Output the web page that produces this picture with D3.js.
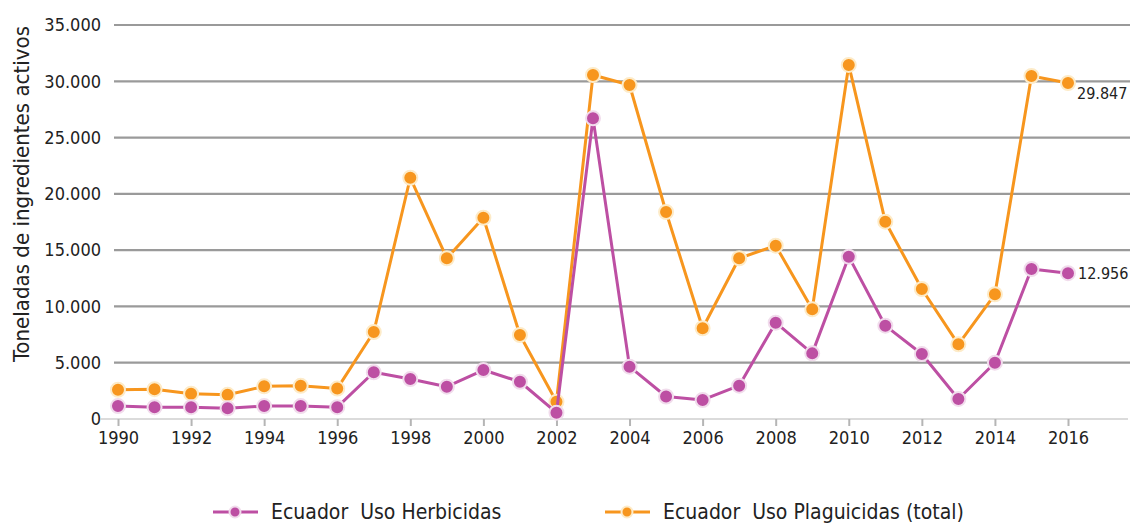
<!DOCTYPE html>
<html>
<head>
<meta charset="utf-8">
<script src="https://cdn.jsdelivr.net/npm/d3@7"></script>
<style>
  body { margin: 0; background: #fff; }
  svg text { font-family: "DejaVu Sans Condensed", "Liberation Sans Narrow", "Roboto", sans-serif; fill: #222; }
</style>
</head>
<body>
<div class="chart"></div>
<script>
// data
var years = [1990, 1991, 1992, 1993, 1994, 1995, 1996, 1997, 1998, 1999, 2000, 2001, 2002,
    2003, 2004, 2005, 2006, 2007, 2008, 2009, 2010, 2011, 2012, 2013, 2014, 2015, 2016];
var herbicidas = [1150, 1050, 1050, 950, 1150, 1150, 1050, 4150, 3550, 2870, 4350, 3310, 560,
    26710, 4650, 2000, 1690, 2960, 8560, 5830, 14420, 8290, 5770, 1780, 5000, 13325, 12956];
var plaguicidas = [2600, 2650, 2250, 2150, 2900, 2950, 2700, 7730, 21430, 14280, 17880, 7460, 1540,
    30560, 29670, 18390, 8060, 14280, 15400, 9740, 31450, 17530, 11550, 6630, 11080, 30470, 29847];
var yTicks = [0, 5000, 10000, 15000, 20000, 25000, 30000, 35000];
var xTicks = [1990, 1992, 1994, 1996, 1998, 2000, 2002, 2004, 2006, 2008, 2010, 2012, 2014, 2016];
var seriesNames = ["Ecuador  Uso Herbicidas", "Ecuador  Uso Plaguicidas (total)"];
var yTitle = "Toneladas de ingredientes activos";

var width = 1132, height = 525
    , purple = "#bd4fa3"
    , orange = "#f7961e";

var locale = d3.formatLocale({ decimal: ",", thousands: ".", grouping: [3], currency: ["$", ""] });
var fmt = locale.format(",d");

var x = d3.scaleLinear()
    .domain([1990, 2016])
    .range([118, 1068]);

var y = d3.scaleLinear()
    .domain([0, 35000])
    .range([419, 25]);

var svg = d3.select(".chart").append("svg")
    .attr("width", width)
    .attr("height", height);

// gridlines
svg.append("g")
    .selectAll("line")
    .data(yTicks.filter(d => d > 0))
    .enter().append("line")
    .attr("x1", 114)
    .attr("x2", width - 2)
    .attr("y1", d => y(d))
    .attr("y2", d => y(d))
    .attr("stroke", "#9a9a9a")
    .attr("stroke-width", 2.2);

// y labels
svg.append("g")
    .selectAll("text")
    .data(yTicks)
    .enter().append("text")
    .attr("x", 101)
    .attr("y", d => y(d))
    .attr("dy", "0.35em")
    .attr("text-anchor", "end")
    .style("font-size", "18px")
    .text(d => fmt(d));

// x axis
var xAxis = d3.axisBottom(x)
    .tickValues(xTicks)
    .tickFormat(d3.format("d"))
    .tickSize(7)
    .tickSizeOuter(0);

var gx = svg.append("g")
    .attr("transform", `translate(0,${y(0)})`)
    .call(xAxis);
gx.select(".domain")
    .attr("d", `M100,0H${width - 4}`)
    .attr("stroke", "#cfcfcf")
    .attr("stroke-width", 1.5);
gx.selectAll(".tick line")
    .attr("stroke", "#b5b5b5")
    .attr("stroke-width", 2);
gx.selectAll(".tick text")
    .attr("y", 12)
    .style("font-size", "18px")
    .style("font-family", null);

// y title
svg.append("text")
    .attr("transform", "translate(29,194) rotate(-90)")
    .attr("text-anchor", "middle")
    .attr("textLength", 336)
    .attr("lengthAdjust", "spacingAndGlyphs")
    .style("font-size", "21px")
    .text(yTitle);

var line = d3.line()
    .x((d, i) => x(years[i]))
    .y(d => y(d));

function drawSeries(values, color, ring) {
    var g = svg.append("g");
    g.append("path")
        .datum(values)
        .attr("fill", "none")
        .attr("stroke", color)
        .attr("stroke-width", 3)
        .attr("stroke-linejoin", "round")
        .attr("d", line);
    g.selectAll("circle")
        .data(values)
        .enter().append("circle")
        .attr("cx", (d, i) => x(years[i]))
        .attr("cy", d => y(d))
        .attr("r", 7)
        .attr("fill", color)
        .attr("stroke", ring)
        .attr("stroke-width", 2);
    return g;
}

drawSeries(plaguicidas, orange, "#fdebc8");
drawSeries(herbicidas, purple, "#f1dcec");

// end labels
var last = years.length - 1;
svg.append("text")
    .attr("x", x(years[last]) + 9)
    .attr("y", y(plaguicidas[last]) + 10)
    .attr("dy", "0.35em")
    .style("font-size", "16px")
    .text(fmt(plaguicidas[last]));
svg.append("text")
    .attr("x", x(years[last]) + 10)
    .attr("y", y(herbicidas[last]))
    .attr("dy", "0.35em")
    .style("font-size", "16px")
    .text(fmt(herbicidas[last]));

// legend
var legend = svg.append("g")
    .selectAll("g")
    .data(seriesNames)
    .enter().append("g")
    .attr("transform", (d, i) => `translate(${i == 0 ? 213 : 605},512)`);
legend.append("line")
    .attr("x1", 0).attr("x2", 45)
    .attr("stroke", (d, i) => i == 0 ? purple : orange)
    .attr("stroke-width", 3);
legend.append("circle")
    .attr("cx", 22)
    .attr("r", 5.5)
    .attr("fill", (d, i) => i == 0 ? purple : orange)
    .attr("stroke", (d, i) => i == 0 ? "#f1dcec" : "#fdebc8")
    .attr("stroke-width", 2);
legend.append("text")
    .attr("x", 58)
    .attr("dy", "0.35em")
    .style("font-size", "21px")
    .style("white-space", "pre")
    .text(d => d);
</script>
</body>
</html>
